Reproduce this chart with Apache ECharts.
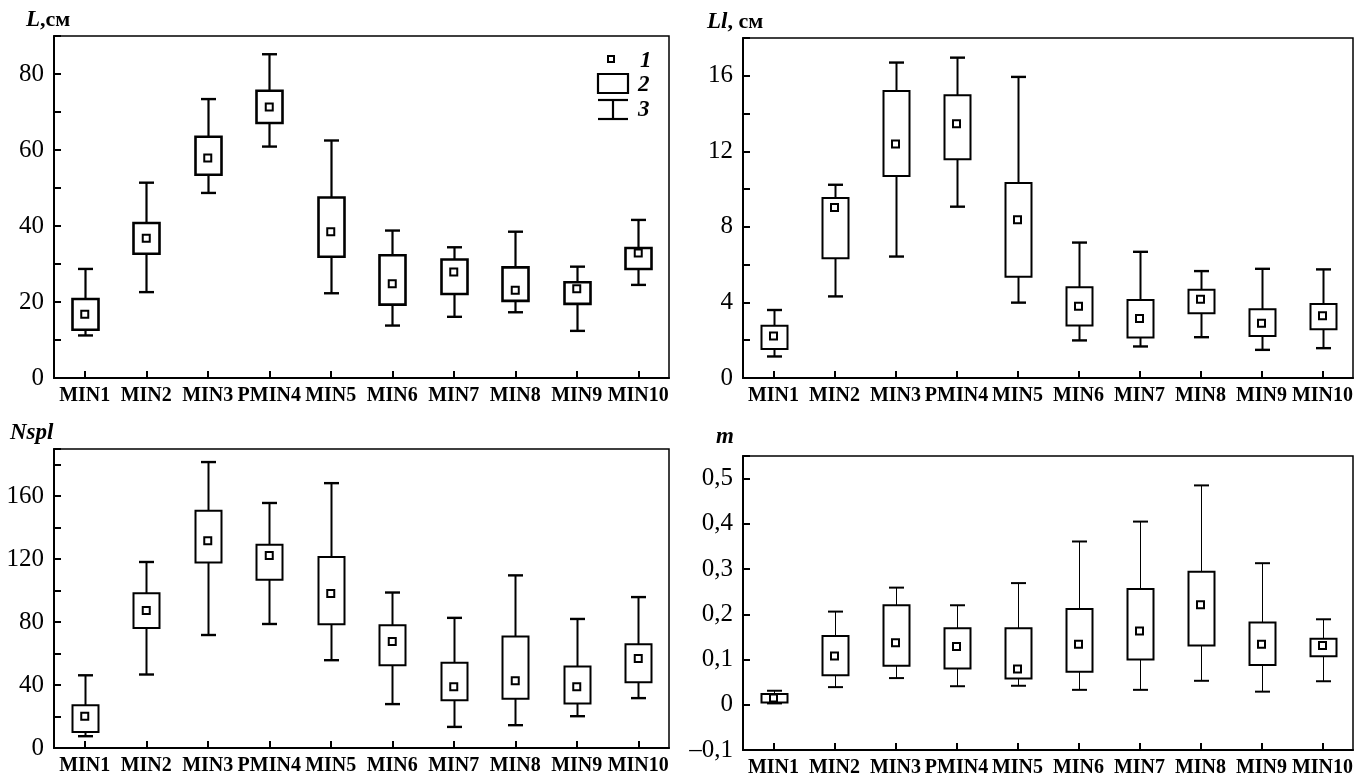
<!DOCTYPE html>
<html>
<head>
<meta charset="utf-8">
<script src="https://cdn.jsdelivr.net/npm/echarts@6/dist/echarts.min.js"></script>
<style>
html,body{margin:0;padding:0;background:#fff;}
#chart{width:1361px;height:779px;}
</style>
</head>
<body>
<div id="chart"></div>
<script>
// ---------- DATA ----------
const categories = ['MIN1','MIN2','MIN3','PMIN4','MIN5','MIN6','MIN7','MIN8','MIN9','MIN10'];

// L, cm
const L_min  = [11.2, 22.6, 48.7, 60.9, 22.3, 13.8, 16.1, 17.3, 12.4, 24.5];
const L_q1   = [12.7, 32.7, 53.5, 67.1, 31.9, 19.3, 22.1, 20.3, 19.5, 28.7];
const L_mean = [16.8, 36.8, 57.9, 71.3, 38.5, 24.8, 27.9, 23.1, 23.5, 32.9];
const L_q3   = [20.8, 40.8, 63.5, 75.6, 47.5, 32.3, 31.2, 29.1, 25.2, 34.2];
const L_max  = [28.7, 51.4, 73.4, 85.2, 62.5, 38.8, 34.4, 38.5, 29.3, 41.6];

// Ll, cm
const Ll_min  = [1.14, 4.32, 6.43, 9.07, 3.99, 1.99, 1.67, 2.16, 1.49, 1.58];
const Ll_q1   = [1.53, 6.34, 10.69, 11.58, 5.36, 2.78, 2.14, 3.43, 2.23, 2.58];
const Ll_mean = [2.23, 9.02, 12.39, 13.46, 8.38, 3.80, 3.15, 4.17, 2.90, 3.30];
const Ll_q3   = [2.76, 9.53, 15.20, 14.97, 10.32, 4.80, 4.13, 4.67, 3.64, 3.92];
const Ll_max  = [3.60, 10.23, 16.70, 16.96, 15.94, 7.17, 6.68, 5.66, 5.78, 5.75];

// Nspl
const N_min  = [7.5, 46.7, 71.8, 78.8, 55.8, 27.9, 13.4, 14.5, 20.2, 31.7];
const N_q1   = [10.2, 76.3, 117.8, 106.9, 78.6, 52.6, 30.3, 31.3, 28.3, 41.8];
const N_mean = [20.2, 87.3, 131.7, 122.3, 98.2, 67.7, 39.0, 42.8, 39.0, 56.9];
const N_q3   = [27.1, 98.4, 150.8, 129.1, 121.4, 78.0, 54.1, 70.9, 51.8, 66.0];
const N_max  = [46.2, 118.2, 181.7, 155.7, 168.3, 98.8, 82.7, 109.7, 82.0, 95.9];

// m
const m_min  = [0.003, 0.039, 0.059, 0.041, 0.042, 0.033, 0.033, 0.053, 0.029, 0.052];
const m_q1   = [0.005, 0.065, 0.086, 0.080, 0.058, 0.073, 0.100, 0.131, 0.088, 0.107];
const m_mean = [0.015, 0.108, 0.137, 0.129, 0.079, 0.134, 0.163, 0.221, 0.134, 0.131];
const m_q3   = [0.024, 0.152, 0.220, 0.169, 0.169, 0.212, 0.256, 0.294, 0.182, 0.146];
const m_max  = [0.031, 0.206, 0.259, 0.220, 0.269, 0.361, 0.405, 0.485, 0.313, 0.189];

// Axis tick settings
const L_axis  = {min: 0, max: 90, interval: 10, labelStep: 20};
const Ll_axis = {min: 0, max: 18, interval: 2, labelStep: 4};
const N_axis  = {min: 0, max: 190, interval: 20, labelStep: 40};
const m_axis  = {min: -0.1, max: 0.55, interval: 0.1, labelStep: 0.1};

// ---------- LAYOUT / STYLE ----------
const FONT = '"Liberation Serif", "DejaVu Serif", serif';
const panels = [
  {grid:{left:54, top:36, width:615, height:342}, ax:L_axis,
   d:[L_min,L_q1,L_q3,L_max], mean:L_mean, boxW:2.6, whW:2.2, capW:2.4, decimal:false},
  {grid:{left:743, top:38, width:610, height:340}, ax:Ll_axis,
   d:[Ll_min,Ll_q1,Ll_q3,Ll_max], mean:Ll_mean, boxW:2.0, whW:2.0, capW:2.4, decimal:false},
  {grid:{left:54, top:449, width:615, height:299}, ax:N_axis,
   d:[N_min,N_q1,N_q3,N_max], mean:N_mean, boxW:2.0, whW:2.0, capW:2.4, decimal:false},
  {grid:{left:743, top:456, width:610, height:294}, ax:m_axis,
   d:[m_min,m_q1,m_q3,m_max], mean:m_mean, boxW:2.0, whW:1.0, capW:2.0, decimal:true}
];

function makeRender(p){
  return function(params, api){
    const x = api.value(0);
    const lo = api.coord([x, api.value(1)]);
    const q1 = api.coord([x, api.value(2)]);
    const q3 = api.coord([x, api.value(3)]);
    const hi = api.coord([x, api.value(4)]);
    const cx = Math.round(lo[0]) + 0.5;
    const bw = 26, cw = 15;
    const st = (w)=>({stroke:'#000', lineWidth:w, fill:null});
    return {type:'group', children:[
      {type:'line', shape:{x1:cx,y1:hi[1],x2:cx,y2:q3[1]}, style:st(p.whW)},
      {type:'line', shape:{x1:cx,y1:q1[1],x2:cx,y2:lo[1]}, style:st(p.whW)},
      {type:'line', shape:{x1:cx-cw/2,y1:hi[1],x2:cx+cw/2,y2:hi[1]}, style:st(p.capW)},
      {type:'line', shape:{x1:cx-cw/2,y1:lo[1],x2:cx+cw/2,y2:lo[1]}, style:st(p.capW)},
      {type:'rect', shape:{x:cx-bw/2, y:q3[1], width:bw, height:q1[1]-q3[1]},
       style:{stroke:'#000', lineWidth:p.boxW, fill:'#fff'}}
    ]};
  };
}

const grids=[], xAxes=[], yAxes=[], series=[];
panels.forEach((p,i)=>{
  grids.push(Object.assign({show:true, borderColor:'#000', borderWidth:1.5,
    backgroundColor:'transparent', containLabel:false, outerBoundsMode:'none'}, p.grid));
  xAxes.push({
    type:'category', gridIndex:i, data:categories, boundaryGap:true,
    axisLine:{show:true, onZero:false, lineStyle:{color:'#000', width:2}},
    axisTick:{show:true, inside:true, alignWithLabel:true, length:7, lineStyle:{color:'#000', width:2}},
    axisLabel:{color:'#000', fontFamily:FONT, fontSize:20, fontWeight:'bold', margin:8, interval:0},
    splitLine:{show:false}
  });
  const ax = p.ax;
  yAxes.push({
    type:'value', gridIndex:i, min:ax.min, max:ax.max, interval:ax.interval,
    axisLine:{show:true, onZero:false, lineStyle:{color:'#000', width:2}},
    axisTick:{show:true, inside:true, length:7, lineStyle:{color:'#000', width:2}},
    splitLine:{show:false},
    axisLabel:{color:'#000', fontFamily:FONT, fontSize:25, margin:10,
      showMaxLabel:true, showMinLabel:true,
      formatter:function(v){
        const k = v/ax.labelStep;
        if (Math.abs(k-Math.round(k))>1e-6) return '';
        if (p.decimal){
          if (Math.abs(v)<1e-9) return '0';
          return v.toFixed(1).replace('.', ',').replace('-', '\u2013');
        }
        return String(Math.round(v));
      }}
  });
  series.push({
    type:'custom', xAxisIndex:i, yAxisIndex:i,
    renderItem: makeRender(p),
    encode:{x:0, y:[1,2,3,4]},
    data: categories.map((c,j)=>[j, p.d[0][j], p.d[1][j], p.d[2][j], p.d[3][j]]),
    z:2, silent:true
  });
  series.push({
    type:'scatter', xAxisIndex:i, yAxisIndex:i,
    data: p.mean.map((v,j)=>[j, v]),
    symbol:'rect', symbolSize:7,
    itemStyle:{color:'#fff', borderColor:'#000', borderWidth:2, opacity:1},
    z:5, silent:true
  });
});

const rich = {
  i:{fontFamily:FONT, fontSize:23, fontStyle:'italic', fontWeight:'bold', color:'#000'},
  n:{fontFamily:FONT, fontSize:22, fontWeight:'bold', color:'#000'}
};
const titles = [
  {text:'{i|L}{n|,см}', left:26, top:9},
  {text:'{i|Ll}{n|, см}', left:707, top:11},
  {text:'{i|Nspl}', left:10, top:422},
  {text:'{i|m}', left:716, top:426}
].map(t=>({text:t.text, left:t.left, top:t.top, padding:0, textStyle:{rich:rich}}));

const lg = {stroke:'#000', lineWidth:2.2, fill:null};
const lgText = (t,x,y)=>({type:'text', x:x, y:y, style:{text:t, fontFamily:FONT, fontSize:23,
  fontStyle:'italic', fontWeight:'bold', fill:'#000', verticalAlign:'middle'}});
const graphic = [
  {type:'rect', shape:{x:608, y:56, width:6, height:6}, style:{stroke:'#000', lineWidth:2, fill:'#fff'}},
  {type:'rect', shape:{x:598, y:74, width:30, height:19}, style:lg},
  {type:'line', shape:{x1:598, y1:100, x2:628, y2:100}, style:lg},
  {type:'line', shape:{x1:613, y1:100, x2:613, y2:119}, style:lg},
  {type:'line', shape:{x1:598, y1:119, x2:628, y2:119}, style:lg},
  lgText('1', 640, 61),
  lgText('2', 638, 85),
  lgText('3', 638, 110)
];

const chart = echarts.init(document.getElementById('chart'), null, {renderer:'canvas'});
chart.setOption({
  animation:false,
  backgroundColor:'#fff',
  title:titles,
  grid:grids, xAxis:xAxes, yAxis:yAxes, series:series,
  graphic:graphic
});
</script>
</body>
</html>
